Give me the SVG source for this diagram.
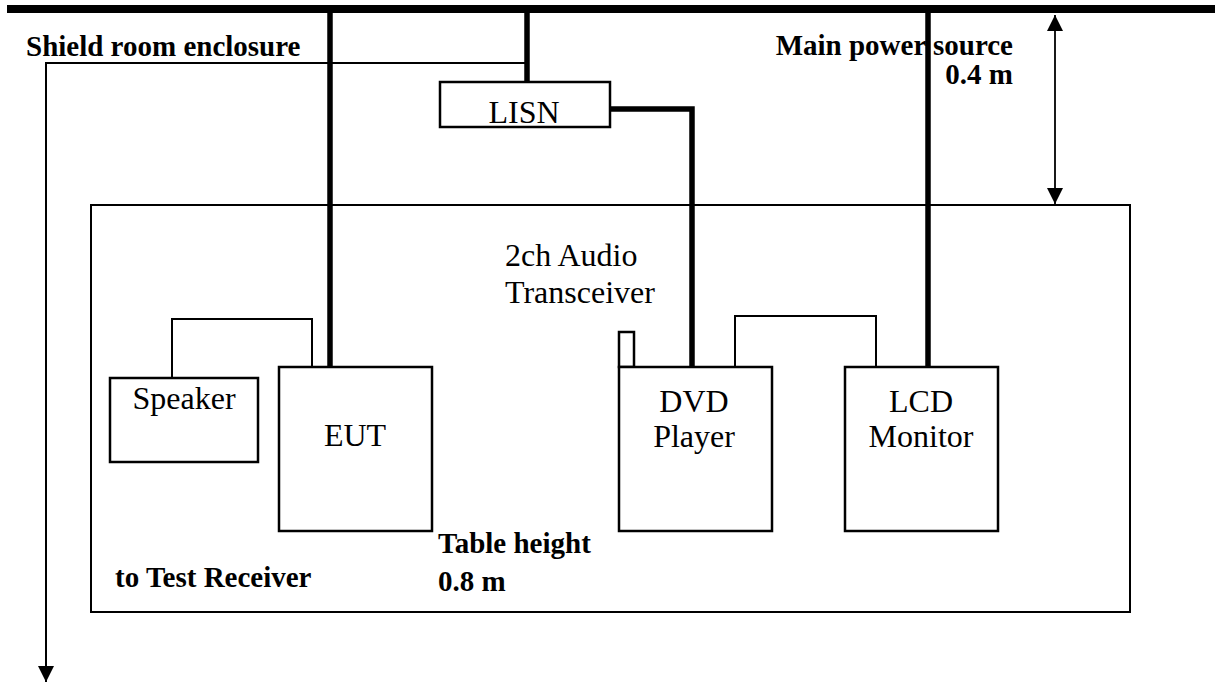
<svg xmlns="http://www.w3.org/2000/svg" width="1215" height="684" viewBox="0 0 1215 684">
<style>
.box{fill:#fff;stroke:#000;stroke-width:2.5}
.thin{fill:none;stroke:#000;stroke-width:2}
.thick{fill:none;stroke:#000;stroke-width:5.5}
.lbl{font-family:"Liberation Serif","Times New Roman",serif;font-size:32px;fill:#000}
.bold{font-family:"Liberation Serif","Times New Roman",serif;font-size:29px;font-weight:bold;fill:#000}
</style>
<defs>
<marker id="ah" viewBox="0 0 16 16" refX="16" refY="8" markerWidth="16" markerHeight="16" markerUnits="userSpaceOnUse" orient="auto-start-reverse">
<path d="M0,0 L16,8 L0,16 Z" fill="#000"/>
</marker>
</defs>
<rect width="1215" height="684" fill="#fff"/>
<g id="table">
<rect x="91" y="205" width="1039" height="407" fill="none" stroke="#000" stroke-width="2"/>
</g>
<g id="connectors">
<line x1="7" y1="9" x2="1215" y2="9" stroke="#000" stroke-width="8"/>
<line class="thick" x1="330" y1="9" x2="330" y2="366"/>
<line class="thick" x1="527" y1="9" x2="527" y2="82"/>
<line class="thick" x1="928" y1="9" x2="928" y2="366"/>
<path class="thick" d="M610 109 H692 V366"/>
<path class="thin" d="M527 63 H46 V682" marker-end="url(#ah)"/>
<path class="thin" d="M172 378 V319 H312 V367"/>
<path class="thin" d="M735 366 V316 H876 V366"/>
<line x1="1055" y1="15" x2="1055" y2="204" stroke="#000" stroke-width="1.8" marker-start="url(#ah)" marker-end="url(#ah)"/>
</g>
<g id="lisn">
<rect class="box" x="440" y="82" width="170" height="45" stroke-width="1.8"/>
<text class="lbl" x="524" y="123" text-anchor="middle">LISN</text>
</g>
<g id="speaker">
<rect class="box" x="110" y="378" width="148" height="84"/>
<text class="lbl" x="184" y="409" text-anchor="middle">Speaker</text>
</g>
<g id="eut">
<rect class="box" x="279" y="367" width="153" height="164"/>
<text class="lbl" x="355" y="446" text-anchor="middle">EUT</text>
</g>
<g id="antenna">
<rect class="box" x="619" y="332" width="15" height="35" stroke-width="2"/>
</g>
<g id="dvd">
<rect class="box" x="619" y="367" width="153" height="164"/>
<text class="lbl" x="694" y="412" text-anchor="middle">DVD</text>
<text class="lbl" x="694" y="447" text-anchor="middle">Player</text>
</g>
<g id="lcd">
<rect class="box" x="845" y="367" width="153" height="164"/>
<text class="lbl" x="921" y="412" text-anchor="middle">LCD</text>
<text class="lbl" x="921" y="447" text-anchor="middle">Monitor</text>
</g>
<g id="labels">
<text class="lbl" x="505" y="266">2ch Audio</text>
<text class="lbl" x="505" y="303">Transceiver</text>
<text class="bold" x="26" y="56">Shield room enclosure</text>
<text class="bold" x="1013" y="55" text-anchor="end">Main power source</text>
<text class="bold" x="1013" y="84" text-anchor="end">0.4 m</text>
<text class="bold" x="438" y="553">Table height</text>
<text class="bold" x="438" y="591">0.8 m</text>
<text class="bold" x="115" y="587">to Test Receiver</text>
</g>
</svg>
